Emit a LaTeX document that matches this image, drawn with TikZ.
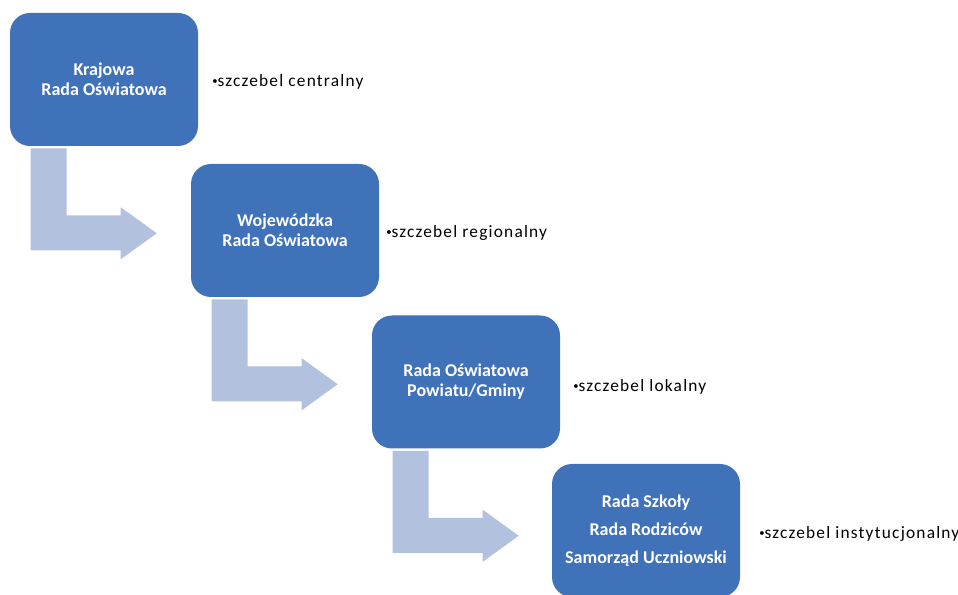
\documentclass[tikz,border=0pt]{standalone}
\usepackage{fontspec}
\setmainfont{Carlito}
\newfontfamily\lblfont[LetterSpace=7]{Carlito}
\usetikzlibrary{calc}
\definecolor{boxblue}{HTML}{3F72B8}
\definecolor{arrowblue}{HTML}{B2C1DE}
\tikzset{
  box/.style={fill=boxblue, rounded corners=15pt, minimum width=141pt, minimum height=99.75pt,
    inner sep=0pt, align=center, text=white, font=\fontsize{13.5}{15}\selectfont\bfseries},
  lbl/.style={anchor=west, inner sep=0pt, font=\fontsize{13}{15}\selectfont\lblfont, text=black},
  bentarrow/.style={fill=arrowblue, draw=none}
}
\newcommand{\bentarr}[1]{%
  \begin{scope}[shift={(#1.south west)}]
    \fill[arrowblue] (21,2) -- (57,2) -- (57,69) -- (111,69) -- (111,61) -- (147,87)
      -- (111,113) -- (111,104) -- (21,104) -- cycle;
  \end{scope}}
\newcommand{\blt}{\raisebox{0.25ex}{\footnotesize\textbullet}}
\begin{document}
\begin{tikzpicture}[x=0.75pt, y=-0.75pt]
\useasboundingbox (0,0) rectangle (958,595);
\node[box] (b1) at (104,79.5) {Krajowa\\Rada Oświatowa};
\node[box] (b2) at (285,230.5) {Wojewódzka\\Rada Oświatowa};
\node[box] (b3) at (466,382) {Rada Oświatowa\\Powiatu/Gminy};
\node[box, font=\fontsize{13.5}{21}\selectfont\bfseries] (b4) at (646,530.5) {Rada Szkoły\\Rada Rodziców\\Samorząd Uczniowski};
\bentarr{b1}
\bentarr{b2}
\bentarr{b3}
\node[lbl] (l1) at (212,82) {\blt szczebel centralny};
\node[lbl] (l2) at (386,233) {\blt szczebel regionalny};
\node[lbl] (l3) at (573,387) {\blt szczebel lokalny};
\node[lbl] (l4) at (759,534) {\blt szczebel instytucjonalny};
\end{tikzpicture}
\end{document}
